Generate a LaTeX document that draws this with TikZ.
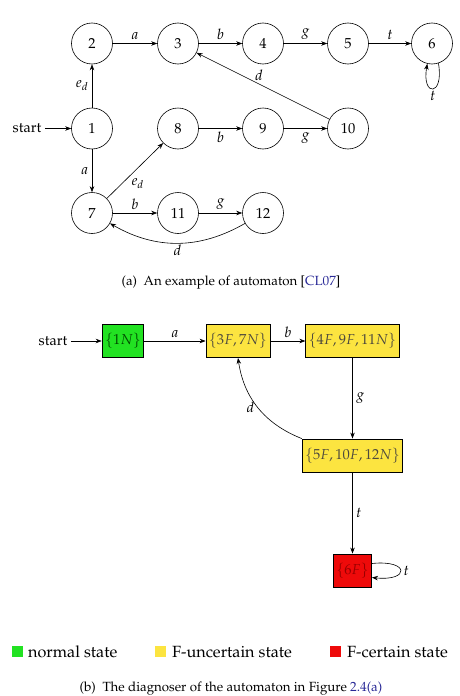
\documentclass[tikz,border=0pt]{standalone}
\usepackage[T1]{fontenc}
\usepackage{mathpazo}
\usetikzlibrary{arrows.meta}
\definecolor{cgreen}{RGB}{34,226,34}
\definecolor{cyellow}{RGB}{252,228,64}
\definecolor{cred}{RGB}{238,10,10}
\definecolor{cblue}{RGB}{40,40,150}
\begin{document}
\begin{tikzpicture}[x=1pt,y=-1pt,
  every node/.style={font=\fontsize{14.5}{17}\selectfont},
  st/.style={draw,circle,minimum size=41pt,inner sep=0pt,line width=0.6pt},
  dbox/.style={draw,line width=0.9pt,minimum height=33pt,inner sep=3pt},
  ed/.style={-{Stealth[length=6pt,width=4.5pt]},line width=0.6pt},
  lab/.style={inner sep=3.5pt},
  leg/.style={minimum size=11pt,inner sep=0pt},
  legtext/.style={anchor=west,inner sep=0pt,font=\fontsize{16.2}{19}\selectfont},
  captext/.style={font=\fontsize{13.3}{16}\selectfont}]
\useasboundingbox (0,0) rectangle (460,696);
% (a)
\node[st] (n2) at (92,43.5) {2};
\node[st] (n3) at (178,43.5) {3};
\node[st] (n4) at (263,43.5) {4};
\node[st] (n5) at (348,43.5) {5};
\node[st] (n6) at (432,43.5) {6};
\node[st] (n1) at (92,128.5) {1};
\node[st] (n8) at (178,128.5) {8};
\node[st] (n9) at (263,128.5) {9};
\node[st] (n10) at (348,128.5) {10};
\node[st] (n7) at (92,213) {7};
\node[st] (n11) at (178,213) {11};
\node[st] (n12) at (263,213) {12};
\node (sa) at (27,128.5) {start};
\draw[ed] (sa) -- (n1);
\draw[ed] (n1) -- node[lab,left,pos=0.5] {$e_d$} (n2);
\draw[ed] (n2) -- node[lab,above] {$a$} (n3);
\draw[ed] (n3) -- node[lab,above] {$b$} (n4);
\draw[ed] (n4) -- node[lab,above] {$g$} (n5);
\draw[ed] (n5) -- node[lab,above] {$t$} (n6);
\draw[ed] (n6.-72) .. controls +(80:34) and +(100:34) .. node[lab,below,inner sep=2pt] {$t$} (n6.-103);
\draw[ed] (n8) -- node[lab,below] {$b$} (n9);
\draw[ed] (n9) -- node[lab,below] {$g$} (n10);
\draw[ed] (n10) -- node[lab,above,pos=0.53] {$d$} (n3);
\draw[ed] (n1) -- node[lab,left] {$a$} (n7);
\draw[ed] (n7) -- node[lab,below right,pos=0.4,inner sep=2pt] {$e_d$} (n8);
\draw[ed] (n7) -- node[lab,above] {$b$} (n11);
\draw[ed] (n11) -- node[lab,above] {$g$} (n12);
\draw[ed] (n12) to[out=-150,in=-30] node[lab,below,inner sep=2pt] {$d$} (n7);
\node[captext] (capa) at (231,283) {(a)\ \ An example of automaton [{\color{cblue}CL07}]};
% (b)
\node (sb) at (53,341) {start};
\node[dbox,fill=cgreen,text=black!70!green] (d1) at (123,341) {$\{1N\}$};
\node[dbox,fill=cyellow,text=black!80!yellow] (d2) at (238,341) {$\{3F,7N\}$};
\node[dbox,fill=cyellow,text=black!80!yellow] (d3) at (352.5,341) {$\{4F,9F,11N\}$};
\node[dbox,fill=cyellow,text=black!80!yellow] (d4) at (352.5,455.5) {$\{5F,10F,12N\}$};
\node[dbox,fill=cred,text=black!40!red] (d5) at (352.5,570.5) {$\{6F\}$};
\draw[ed] (sb) -- (d1);
\draw[ed] (d1) -- node[lab,above] {$a$} (d2);
\draw[ed] (d2) -- node[lab,above] {$b$} (d3);
\draw[ed] (d3) -- node[lab,right] {$g$} (d4);
\draw[ed] (d4.north west) to[bend left=30] node[lab,left] {$d$} (d2.south);
\draw[ed] (d4) -- node[lab,right] {$t$} (d5);
\path (d5.east) ++(0,-7) coordinate (lo) (d5.east) ++(0,7) coordinate (li);
\draw[ed] (lo) .. controls +(38,-4) and +(38,4) .. node[lab,right,inner sep=3pt] {$t$} (li);
% legend
\node[leg,fill=cgreen] (g1) at (17,651) {};
\node[legtext] (t1) at (28,652) {normal state};
\node[leg,fill=cyellow] (g2) at (160,651) {};
\node[legtext] (t2) at (172,652) {F-uncertain state};
\node[leg,fill=cred] (g3) at (335,651) {};
\node[legtext] (t3) at (347,652) {F-certain state};
\node[captext] (capb) at (231,689) {(b)\ \ The diagnoser of the automaton in Figure {\color{cblue}2.4(a)}};
\end{tikzpicture}
\end{document}
